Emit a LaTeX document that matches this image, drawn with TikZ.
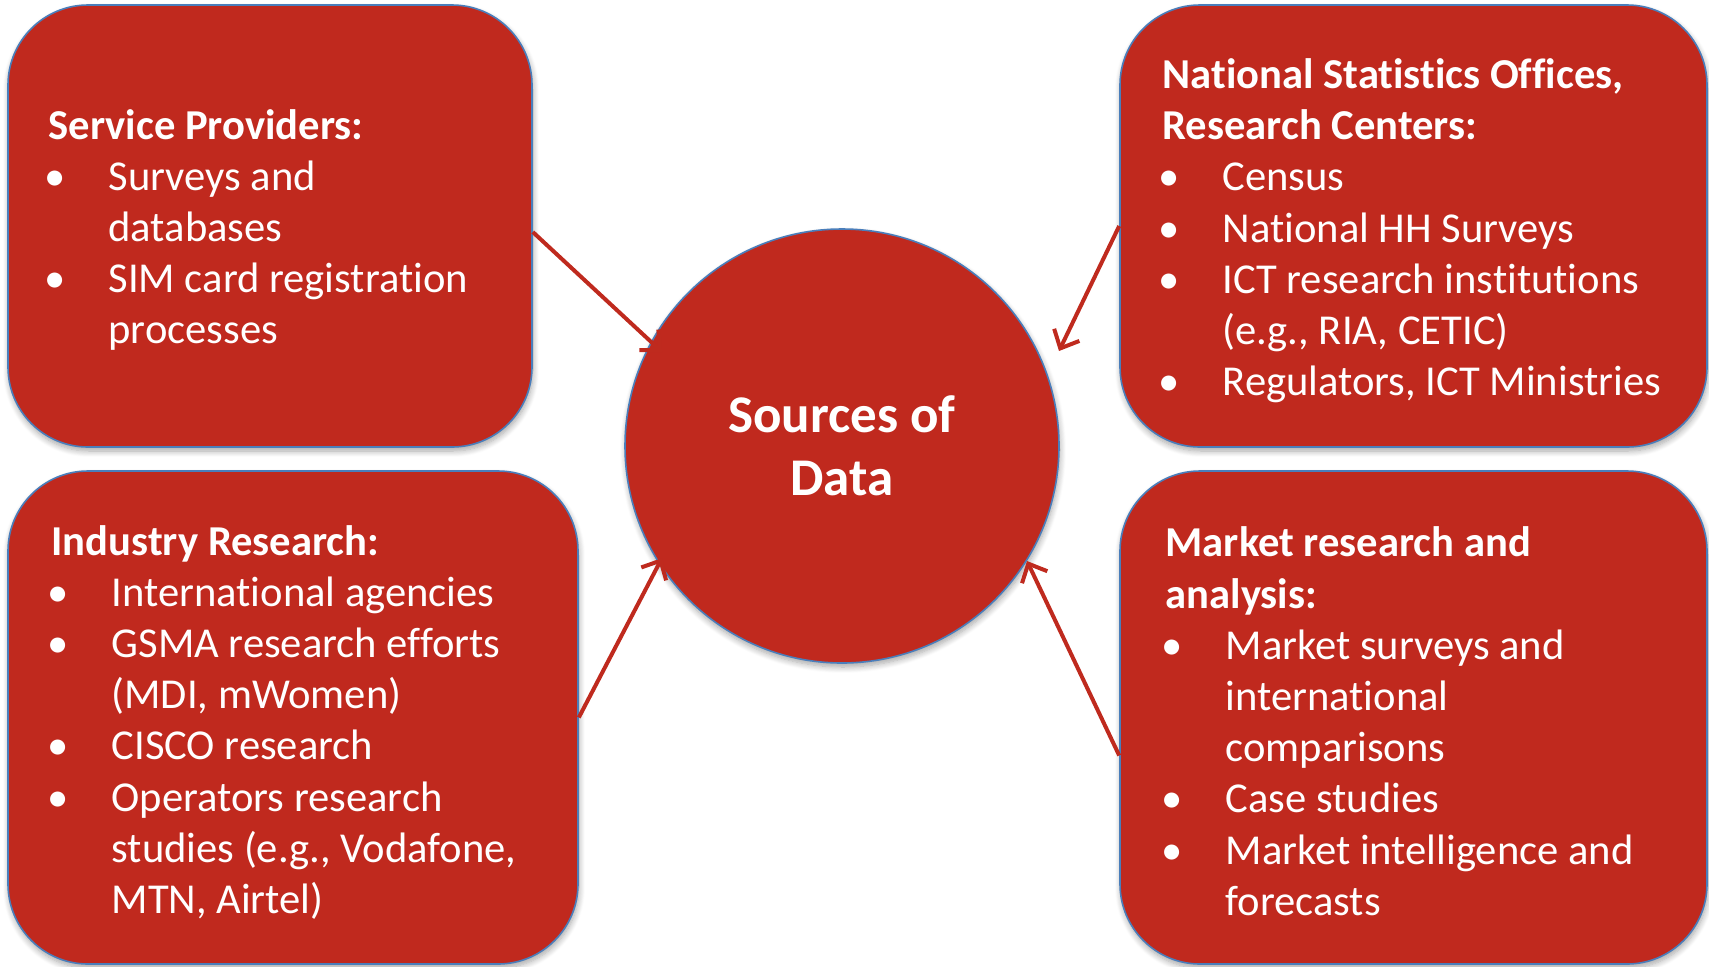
\documentclass[tikz,border=0pt]{standalone}
\usepackage{fontspec}
\setmainfont[Ligatures={NoCommon,NoRequired,NoContextual},Contextuals=NoAlternate,RawFeature={-liga;-clig;-calt;-dlig}]{Carlito}
\usetikzlibrary{arrows.meta,calc,shadows.blur}
\definecolor{boxred}{HTML}{C0291E}
\definecolor{edgeblue}{HTML}{4A7EBB}
\definecolor{arrred}{HTML}{BF2A1E}
\newcommand{\bul}{\makebox[30pt][l]{\hspace{-2pt}\textbullet}}
\newcommand{\cnt}{\hspace*{30pt}}
\begin{document}
\begin{tikzpicture}[x=0.5pt,y=-0.5pt,
  shad/.style={blur shadow={shadow xshift=0.5pt, shadow yshift=-2pt, shadow blur steps=8, shadow blur radius=3pt, shadow opacity=35}},
  srcbox/.style={draw=edgeblue, line width=0.8pt, fill=boxred, rounded corners=40pt, shad},
  txt/.style={anchor=west, align=left, text=white, font=\fontsize{21.3}{25.6}\selectfont, inner sep=0pt},
  arr/.style={draw=arrred, line width=2pt, -{Straight Barb[length=7.5pt,width=14pt]}}
]
\useasboundingbox (0,0) rectangle (1709,966);

% boxes
\node[srcbox, minimum width=262pt, minimum height=221pt] (sp) at (270,226) {};
\node[srcbox, minimum width=293.5pt, minimum height=221pt] (nso) at (1413.5,226) {};
\node[srcbox, minimum width=285pt, minimum height=246.5pt] (ir) at (293,717.5) {};
\node[srcbox, minimum width=293.5pt, minimum height=246.5pt] (mr) at (1413.5,717.5) {};

% central circle
\node[circle, draw=edgeblue, line width=0.8pt, fill=boxred, minimum size=217pt, inner sep=0pt, shad,
      text=white, font=\bfseries\fontsize{26.5}{31.5}\selectfont, align=center] (c) at (842,446) {Sources of\\Data};

% texts
\node[txt] (sptxt) at ([xshift=20.5pt,yshift=-2pt]sp.west) {\textbf{Service Providers:}\\
\bul Surveys and\\
\cnt databases\\
\bul SIM card registration\\
\cnt processes};

\node[txt] (nsotxt) at ([xshift=21.5pt,yshift=-2.4pt]nso.west) {\textbf{National Statistics Offices,}\\
\textbf{Research Centers:}\\
\bul Census\\
\bul National HH Surveys\\
\bul ICT research institutions\\
\cnt (e.g., RIA, CETIC)\\
\bul Regulators, ICT Ministries};

\node[txt] (irtxt) at ([xshift=22pt,yshift=-2.4pt]ir.west) {\textbf{Industry Research:}\\
\bul International agencies\\
\bul GSMA research efforts\\
\cnt (MDI, mWomen)\\
\bul CISCO research\\
\bul Operators research\\
\cnt studies (e.g., Vodafone,\\
\cnt MTN, Airtel)};

\node[txt] (mrtxt) at ([xshift=23pt,yshift=-1.9pt]mr.west) {\textbf{Market research and}\\
\textbf{analysis:}\\
\bul Market surveys and\\
\cnt international\\
\cnt comparisons\\
\bul Case studies\\
\bul Market intelligence and\\
\cnt forecasts};

% arrows
\draw[arr] ([yshift=-3pt]sp.east) -- ($(c.center)+(-180,-94)$);
\draw[arr] (nso.west) -- ($(c.center)+(217,-95)$);
\draw[arr] (ir.east) -- ($(c.center)+(-180,112)$);
\draw[arr] ([yshift=-19pt]mr.west) -- ($(c.center)+(185,115)$);
\end{tikzpicture}
\end{document}
